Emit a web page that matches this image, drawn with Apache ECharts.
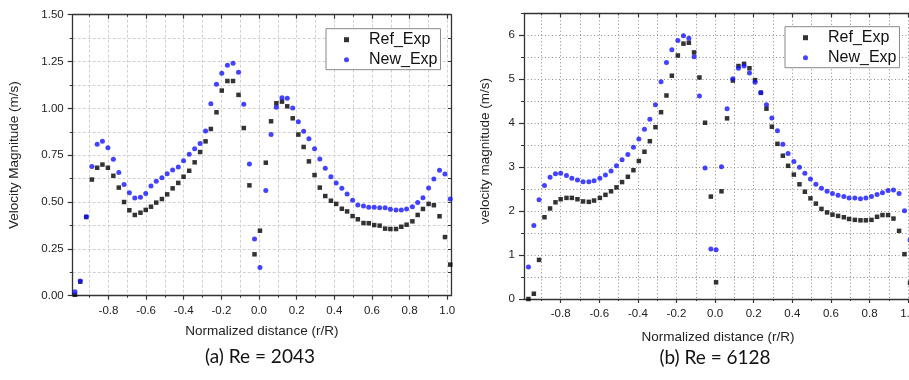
<!DOCTYPE html>
<html>
<head>
<meta charset="utf-8">
<script src="https://cdn.jsdelivr.net/npm/echarts@6/dist/echarts.min.js"></script>
<style>html,body{margin:0;padding:0;background:#fff}#c{width:909px;height:380px}</style>
</head>
<body>
<div id="c"></div>
<script>
// ---------- data: (a) Re = 2043 ----------
const xA = [-0.978,-0.95,-0.918,-0.888,-0.86,-0.832,-0.803,-0.774,-0.745,-0.717,-0.689,-0.66,-0.63,-0.602,-0.574,-0.546,-0.516,-0.488,-0.459,-0.429,-0.401,-0.371,-0.342,-0.313,-0.284,-0.256,-0.226,-0.198,-0.168,-0.138,-0.109,-0.081,-0.051,-0.024,0.005,0.036,0.064,0.092,0.122,0.15,0.179,0.209,0.237,0.265,0.295,0.323,0.352,0.382,0.41,0.44,0.468,0.497,0.525,0.555,0.583,0.612,0.641,0.67,0.698,0.728,0.756,0.784,0.815,0.843,0.871,0.901,0.929,0.959,0.988,1.016];
const refA = [0.005,0.075,0.42,0.62,0.683,0.70,0.683,0.64,0.577,0.50,0.456,0.431,0.443,0.458,0.475,0.497,0.516,0.541,0.573,0.602,0.635,0.667,0.712,0.767,0.824,0.89,0.979,1.095,1.146,1.146,1.072,0.895,0.589,0.221,0.347,0.71,0.931,1.027,1.036,1.011,0.947,0.86,0.794,0.717,0.644,0.577,0.532,0.507,0.49,0.464,0.45,0.425,0.408,0.388,0.387,0.377,0.374,0.358,0.356,0.356,0.368,0.379,0.397,0.431,0.463,0.49,0.483,0.424,0.313,0.166];
const newA = [0.021,0.078,0.422,0.69,0.808,0.824,0.79,0.728,0.657,0.593,0.55,0.522,0.525,0.545,0.586,0.611,0.63,0.651,0.671,0.687,0.721,0.755,0.785,0.812,0.879,1.025,1.129,1.187,1.23,1.241,1.193,1.022,0.703,0.303,0.15,0.561,0.86,1.006,1.057,1.054,1.002,0.929,0.878,0.838,0.785,0.73,0.68,0.635,0.602,0.573,0.543,0.509,0.484,0.479,0.472,0.472,0.47,0.47,0.461,0.458,0.458,0.463,0.475,0.497,0.523,0.575,0.623,0.669,0.65,0.516];

// ---------- data: (b) Re = 6128 ----------
const xB = [-0.967,-0.939,-0.912,-0.884,-0.855,-0.827,-0.8,-0.77,-0.742,-0.713,-0.684,-0.654,-0.627,-0.597,-0.568,-0.539,-0.511,-0.482,-0.452,-0.423,-0.395,-0.366,-0.338,-0.309,-0.28,-0.252,-0.224,-0.193,-0.164,-0.136,-0.109,-0.081,-0.052,-0.022,0.005,0.033,0.062,0.092,0.121,0.15,0.178,0.207,0.237,0.266,0.294,0.323,0.351,0.378,0.408,0.437,0.465,0.494,0.522,0.551,0.58,0.608,0.637,0.667,0.694,0.724,0.753,0.781,0.81,0.839,0.867,0.896,0.924,0.953,0.981,1.01];
const refB = [0,0.12,0.89,1.86,2.06,2.20,2.27,2.30,2.30,2.27,2.22,2.21,2.24,2.30,2.37,2.45,2.54,2.66,2.78,2.93,3.14,3.35,3.59,3.91,4.25,4.63,5.08,5.54,5.81,5.83,5.61,5.04,4.01,2.33,0.38,2.45,4.11,4.97,5.30,5.35,5.25,4.98,4.69,4.33,3.92,3.53,3.26,3.03,2.83,2.61,2.44,2.29,2.17,2.05,1.97,1.92,1.89,1.86,1.82,1.80,1.79,1.79,1.80,1.87,1.91,1.91,1.83,1.55,1.02,0.37];
const newB = [0.73,1.67,2.26,2.58,2.77,2.85,2.86,2.81,2.75,2.71,2.67,2.67,2.69,2.75,2.82,2.91,3.03,3.17,3.29,3.45,3.64,3.86,4.09,4.42,4.94,5.38,5.67,5.88,5.99,5.93,5.51,4.62,2.98,1.14,1.12,3.01,4.33,5.01,5.25,5.30,5.14,4.93,4.70,4.42,4.12,3.83,3.52,3.31,3.13,3.0,2.86,2.73,2.61,2.52,2.45,2.40,2.36,2.33,2.30,2.30,2.28,2.30,2.33,2.38,2.42,2.47,2.48,2.40,2.01,1.34];

// ---------- ticks ----------
const xMajorTicks = [-0.8,-0.6,-0.4,-0.2,0.0,0.2,0.4,0.6,0.8,1.0];
const xMinorTicks = [-0.9,-0.8,-0.7,-0.6,-0.5,-0.4,-0.3,-0.2,-0.1,0.0,0.1,0.2,0.3,0.4,0.5,0.6,0.7,0.8,0.9,1.0];
const yTicksA = [0,0.25,0.5,0.75,1.0,1.25,1.5];
const yTicksB = [0,1,2,3,4,5,6];
const seriesNames = ['Ref_Exp','New_Exp'];
const captions = ['(a) Re = 2043','(b) Re = 6128'];

const FONT = 'Liberation Sans, Arial, sans-serif';
const AX = '#333';
const X_MIN = -0.99, X_MAX = 1.02;

function zip(x, y){ return x.map((v,i)=>[v, y[i]]); }

function xAxes(grid, name, gridColor, dash, nameGap){
  return [
    { gridIndex: grid, type:'value', position:'bottom', min:X_MIN, max:X_MAX,
      name:name, nameLocation:'middle', nameGap:nameGap,
      nameTextStyle:{fontFamily:FONT, fontSize:13.5, color:'#222'},
      axisLine:{show:true, onZero:false, lineStyle:{color:AX, width:1.3}},
      axisTick:{show:true, inside:false, length:4, customValues:xMajorTicks, lineStyle:{color:AX, width:1.2}},
      axisLabel:{show:true, customValues:xMajorTicks, margin:9, fontFamily:FONT, fontSize:11.5, color:'#222',
                 formatter:v=>v.toFixed(1)},
      splitLine:{show:false} },
    { gridIndex: grid, type:'value', position:'bottom', min:X_MIN, max:X_MAX, splitNumber:20,
      axisLine:{show:false, onZero:false},
      axisTick:{show:true, inside:false, length:2, customValues:xMinorTicks, lineStyle:{color:AX, width:1}},
      axisLabel:{show:false},
      splitLine:{show:true, lineStyle:{color:gridColor, type:dash, width:1}} },
    { gridIndex: grid, type:'value', position:'top', min:X_MIN, max:X_MAX,
      axisLine:{show:true, onZero:false, lineStyle:{color:AX, width:1.3}},
      axisTick:{show:true, inside:true, length:4, customValues:xMajorTicks, lineStyle:{color:AX, width:1.2}},
      axisLabel:{show:false}, splitLine:{show:false} },
    { gridIndex: grid, type:'value', position:'top', min:X_MIN, max:X_MAX,
      axisLine:{show:false, onZero:false},
      axisTick:{show:true, inside:true, length:2, customValues:xMinorTicks, lineStyle:{color:AX, width:1}},
      axisLabel:{show:false}, splitLine:{show:false} }
  ];
}

function yAxes(grid, name, max, majorTicks, minorInterval, fmt, gridColor, dash, nameGap, namePad){
  return [
    { gridIndex: grid, type:'value', position:'left', min:0, max:max,
      name:name, nameLocation:'middle', nameGap:nameGap, nameRotate:90,
      nameTextStyle:{fontFamily:FONT, fontSize:13.5, color:'#222', padding:namePad},
      axisLine:{show:true, onZero:false, lineStyle:{color:AX, width:1.3}},
      axisTick:{show:true, inside:false, length:5, customValues:majorTicks, lineStyle:{color:AX, width:1.2}},
      axisLabel:{show:true, customValues:majorTicks, margin:9, fontFamily:FONT, fontSize:11.5, color:'#222', formatter:fmt},
      splitLine:{show:false} },
    { gridIndex: grid, type:'value', position:'left', min:0, max:max, interval:minorInterval,
      axisLine:{show:false, onZero:false},
      axisTick:{show:true, inside:false, length:3, lineStyle:{color:AX, width:1}},
      axisLabel:{show:false},
      splitLine:{show:true, lineStyle:{color:gridColor, type:dash, width:1}} },
    { gridIndex: grid, type:'value', position:'right', min:0, max:max, interval:minorInterval,
      axisLine:{show:true, onZero:false, lineStyle:{color:AX, width:1.3}},
      axisTick:{show:true, inside:true, length:3, lineStyle:{color:AX, width:1}},
      axisLabel:{show:false}, splitLine:{show:false} }
  ];
}

function legend(left, top){
  return { orient:'vertical', left:left, top:top, itemWidth:5, itemHeight:5, itemGap:2,
    backgroundColor:'#fff', borderColor:'#888', borderWidth:1, borderRadius:0,
    padding:[2,3,1,18], selectedMode:false,
    textStyle:{fontFamily:FONT, fontSize:16, color:'#111', lineHeight:18, padding:[0,0,0,15]},
    data: seriesNames };
}

const blackStyle = {color:'#000'};
const blueStyle = {color:'#1414ff'};

const option = {
  animation:false,
  backgroundColor:'#fff',
  grid:[
    {left:72.7, top:14.7, width:378.3, height:281, outerBoundsMode:'none', containLabel:false},
    {left:524, top:13.3, width:388, height:285.7, outerBoundsMode:'none', containLabel:false}
  ],
  title:[
    {text:captions[0], left:255, top:342, textAlign:'center',
     textStyle:{fontFamily:'Lato, Open Sans, sans-serif', fontWeight:'normal', fontSize:19, color:'#111'}},
    {text:captions[1], left:710, top:343, textAlign:'center',
     textStyle:{fontFamily:'Lato, Open Sans, sans-serif', fontWeight:'normal', fontSize:19, color:'#111'}}
  ],
  legend:[ legend(326, 28.7), legend(785, 26.7) ],
  xAxis: [].concat(
    xAxes(0, 'Normalized distance (r/R)', '#d0d0d0', [3,2], 29),
    xAxes(1, 'Normalized distance (r/R)', '#8a8a8a', [1,2.5], 31)
  ),
  yAxis: [].concat(
    yAxes(0, 'Velocity Magnitude (m/s)', 1.5, yTicksA, 0.125, v=>v.toFixed(2), '#d0d0d0', [3,2], 51, [0,0,0,0]),
    yAxes(1, 'velocity magnitude (m/s)', 6.5, yTicksB, 0.5, v=>String(v), '#8a8a8a', [1,2.5], 32, [0,0,0,10])
  ),
  series:[
    {name:seriesNames[0], type:'scatter', xAxisIndex:0, yAxisIndex:0, symbol:'rect', symbolSize:4.5, itemStyle:blackStyle, data:zip(xA, refA), z:3},
    {name:seriesNames[1], type:'scatter', xAxisIndex:0, yAxisIndex:0, symbol:'circle', symbolSize:5, itemStyle:blueStyle, data:zip(xA, newA), z:4},
    {name:seriesNames[0], type:'scatter', xAxisIndex:4, yAxisIndex:3, symbol:'rect', symbolSize:4.5, itemStyle:blackStyle, data:zip(xB, refB), z:3},
    {name:seriesNames[1], type:'scatter', xAxisIndex:4, yAxisIndex:3, symbol:'circle', symbolSize:5, itemStyle:blueStyle, data:zip(xB, newB), z:4}
  ]
};

const chart = echarts.init(document.getElementById('c'), null, {renderer:'canvas'});
chart.setOption(option);
</script>
</body>
</html>
